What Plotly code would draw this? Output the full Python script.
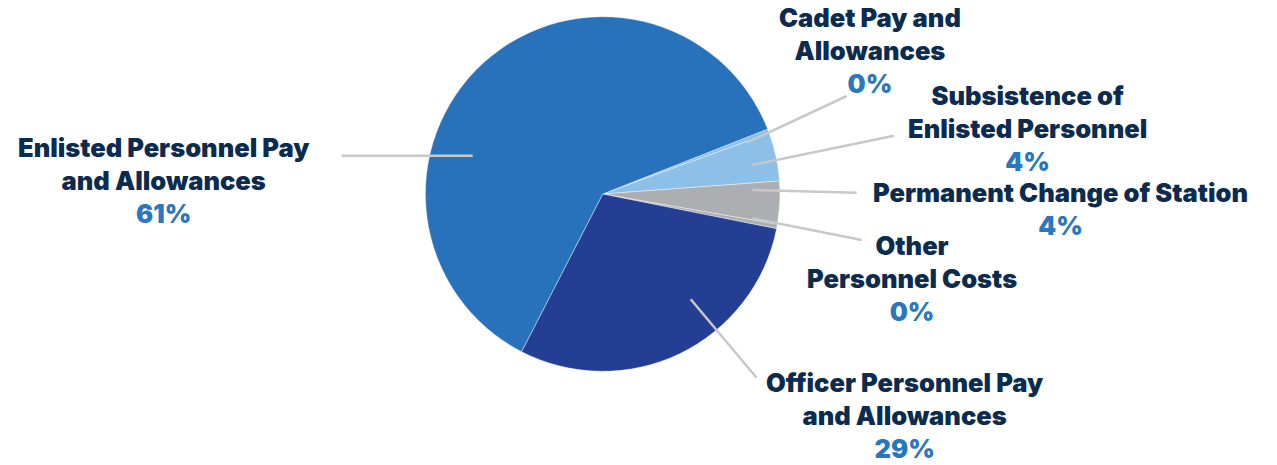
import plotly.graph_objects as go

# ---- data (clockwise order, starting at the top-right boundary) ----
categories = [
    "Cadet Pay and Allowances",
    "Subsistence of Enlisted Personnel",
    "Permanent Change of Station",
    "Other Personnel Costs",
    "Officer Personnel Pay and Allowances",
    "Enlisted Personnel Pay and Allowances",
]
values = [0.4, 4.4, 3.9, 0.4, 29.4, 61.4]
label_lines = [
    "Cadet Pay and<br>Allowances",
    "Subsistence of<br>Enlisted Personnel",
    "Permanent Change of Station",
    "Other<br>Personnel Costs",
    "Officer Personnel Pay<br>and Allowances",
    "Enlisted Personnel Pay<br>and Allowances",
]
colors = ["#8CC0E9", "#8CC0E9", "#ADAEB1", "#ADAEB1", "#233E93", "#2872BB"]

W, H = 1277, 465
CX, CY, R = 602.7, 194.0, 177.3

# label block centres (px) and leader lines (px): layout only
label_pos = [(869.5, 51), (1027, 129), (1060, 209), (911.5, 278), (905, 415), (163.5, 180)]
leaders = [
    ((746.7, 142.7), (846.7, 96.0)),
    ((752.3, 165.0), (894.0, 135.7)),
    ((752.3, 190.0), (856.7, 192.7)),
    ((752.0, 218.3), (861.7, 240.0)),
    ((690.7, 299.3), (756.4, 377.5)),
    ((472.7, 155.7), (341.7, 155.7)),
]

def px(x):
    return x / W

def py(y):
    return 1 - y / H

total = sum(values)

fig = go.Figure(
    go.Pie(
        labels=categories,
        values=values,
        sort=False,
        direction="clockwise",
        rotation=68.5,
        marker=dict(colors=colors, line=dict(color="rgba(255,255,255,0.5)", width=0.8)),
        textinfo="none",
        hoverinfo="label+percent",
        domain=dict(x=[px(CX - R), px(CX + R)], y=[py(CY + R), py(CY - R)]),
        showlegend=False,
    )
)

shapes = []
for (x0, y0), (x1, y1) in leaders:
    shapes.append(dict(type="line", xref="paper", yref="paper",
                       x0=px(x0), y0=py(y0), x1=px(x1), y1=py(y1),
                       line=dict(color="#C7C8CA", width=2.5)))

annotations = []
for name, v, (lx, ly) in zip(label_lines, values, label_pos):
    pct = round(v / total * 100)
    annotations.append(dict(
        xref="paper", yref="paper", x=px(lx), y=py(ly),
        xanchor="center", yanchor="middle", showarrow=False, align="center",
        text=f"{name}<br><span style='color:#2A77C0'>{pct}%</span>",
        font=dict(family="Inter, Lato, Open Sans, sans-serif", size=25.5,
                  color="#0B2B4F", weight=900),
    ))

fig.update_layout(
    width=W, height=H,
    margin=dict(l=0, r=0, t=0, b=0),
    paper_bgcolor="white", plot_bgcolor="white",
    shapes=shapes, annotations=annotations,
)

fig.write_html("out.html", config={"displayModeBar": False},
               post_script="document.body.style.margin='0px';")
